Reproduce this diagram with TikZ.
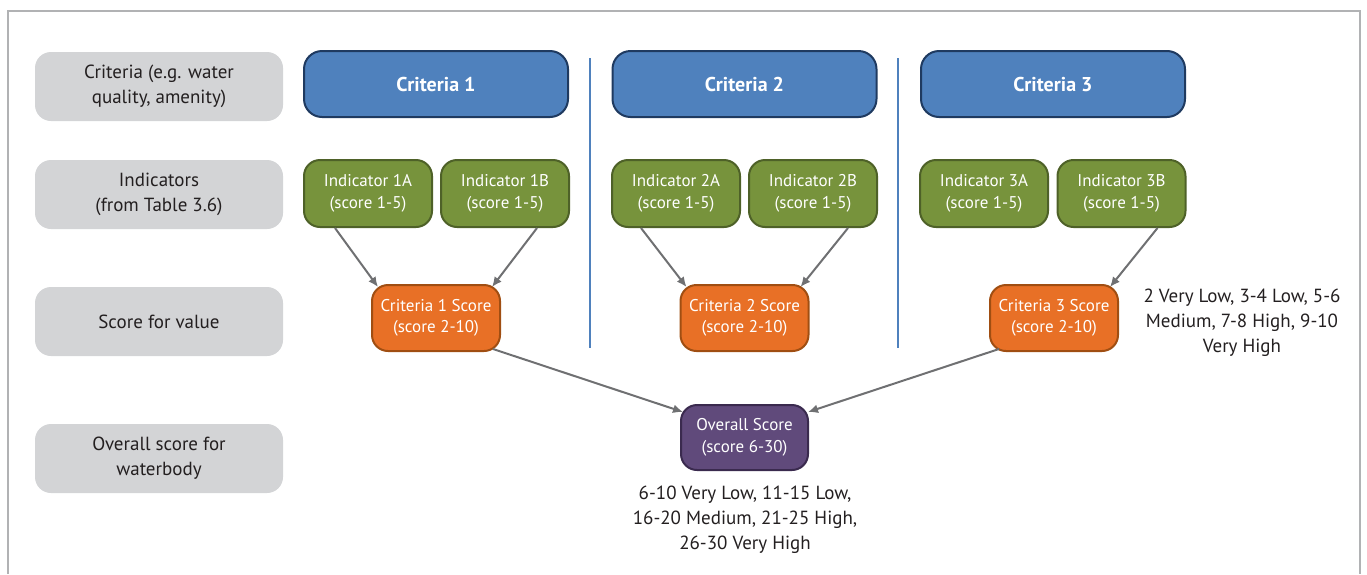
\documentclass[tikz,border=0pt]{standalone}
\usepackage{fontspec}
\setmainfont{PT Sans}
\usetikzlibrary{arrows.meta,calc}

\definecolor{framegray}{HTML}{B1B2B4}
\definecolor{labelfill}{HTML}{D3D4D6}
\definecolor{inktext}{HTML}{231F20}
\definecolor{critfill}{HTML}{4F81BD}
\definecolor{critline}{HTML}{1F3A60}
\definecolor{indfill}{HTML}{77933C}
\definecolor{indline}{HTML}{4E6128}
\definecolor{scorefill}{HTML}{E87026}
\definecolor{scoreline}{HTML}{A04E12}
\definecolor{overfill}{HTML}{604A7B}
\definecolor{overline}{HTML}{3A2A4E}
\definecolor{arrowgray}{HTML}{6F7072}

\tikzset{
  labelbox/.style={rounded corners=16pt, fill=labelfill, minimum width=248pt,
    minimum height=69pt, align=center, text=inktext, inner sep=0pt,
    font=\fontsize{19}{25}\selectfont},
  critbox/.style={rounded corners=18pt, fill=critfill, draw=critline, line width=2pt,
    minimum width=264pt, minimum height=66pt, text=white, inner sep=0pt,
    font=\fontsize{20}{24}\selectfont\bfseries},
  indbox/.style={rounded corners=16pt, fill=indfill, draw=indline, line width=2pt,
    minimum width=128pt, minimum height=67pt, align=center, text=white, inner sep=0pt,
    font=\fontsize{17}{21.5}\selectfont},
  scorebox/.style={indbox, fill=scorefill, draw=scoreline, minimum height=66pt},
  overbox/.style={indbox, fill=overfill, draw=overline, minimum width=127pt, minimum height=65pt},
  note/.style={align=center, text=inktext, inner sep=0pt, font=\fontsize{19}{25}\selectfont},
  link/.style={draw=arrowgray, line width=2pt, -{Latex[length=10pt,width=9pt]}},
  divider/.style={draw=critfill, line width=2.2pt}
}

\begin{document}
\begin{tikzpicture}[x=1pt,y=-1pt]
\useasboundingbox (0,0) rectangle (1367,574);

% outer frame, open at the bottom
\draw[framegray, line width=2.5pt] (8,574) -- (8,11) -- (1360,11) -- (1360,574);

% row labels
\node[labelbox] (lcrit)  at (159,86.5)  {Criteria (e.g. water\\quality, amenity)};
\node[labelbox] (lind)   at (159,194.5) {Indicators\\(from Table 3.6)};
\node[labelbox] (lscore) at (159,321.5) {Score for value};
\node[labelbox] (lover)  at (159,458.5) {Overall score for\\waterbody};

% column dividers
\coordinate (d1top) at (590,58);
\coordinate (d1bot) at (590,348);
\coordinate (d2top) at (898,58);
\coordinate (d2bot) at (898,348);
\draw[divider] (d1top) -- (d1bot);
\draw[divider] (d2top) -- (d2bot);

% criteria
\node[critbox] (c1) at (436,84)    {Criteria 1};
\node[critbox] (c2) at (744.5,84)  {Criteria 2};
\node[critbox] (c3) at (1053,84)   {Criteria 3};

% indicators
\node[indbox] (i1a) at (368,193.5)    {Indicator 1A\\(score 1-5)};
\node[indbox] (i1b) at (505,193.5)    {Indicator 1B\\(score 1-5)};
\node[indbox] (i2a) at (676,193.5)    {Indicator 2A\\(score 1-5)};
\node[indbox] (i2b) at (813,193.5)    {Indicator 2B\\(score 1-5)};
\node[indbox] (i3a) at (984,193.5)    {Indicator 3A\\(score 1-5)};
\node[indbox] (i3b) at (1121.5,193.5) {Indicator 3B\\(score 1-5)};

% criteria scores
\node[scorebox] (s1) at (436,318)    {Criteria 1 Score\\(score 2-10)};
\node[scorebox] (s2) at (744.5,318)  {Criteria 2 Score\\(score 2-10)};
\node[scorebox] (s3) at (1054,318)   {Criteria 3 Score\\(score 2-10)};

% overall score
\node[overbox] (ov) at (744.5,437.5) {Overall Score\\(score 6-30)};

% score bands
\node[note, anchor=north] (n1) at (1242,289) {2 Very Low, 3-4 Low, 5-6\\Medium, 7-8 High, 9-10\\Very High};
\node[note, anchor=north] (n2) at (745,486) {6-10 Very Low, 11-15 Low,\\16-20 Medium, 21-25 High,\\26-30 Very High};

% links
\draw[link] ($(i1a.south)+(-33,0)$) -- ($(s1.north west)+(7,3)$);
\draw[link] ($(i1b.south)+(32,0)$)  -- ($(s1.north east)+(-9,3)$);
\draw[link] ($(i2a.south)+(-35,0)$) -- ($(s2.north west)+(7,3)$);
\draw[link] ($(i2b.south)+(35,0)$)  -- ($(s2.north east)+(-9,3)$);
\draw[link] ($(i3b.south)+(36,0)$)  -- ($(s3.north east)+(-9,3)$);
\draw[link] ($(s1.south east)+(-8,-3)$) -- ($(ov.north west)+(3,8)$);
\draw[link] ($(s3.south west)+(10,-3)$) -- ($(ov.north east)+(-1,8)$);
\end{tikzpicture}
\end{document}
